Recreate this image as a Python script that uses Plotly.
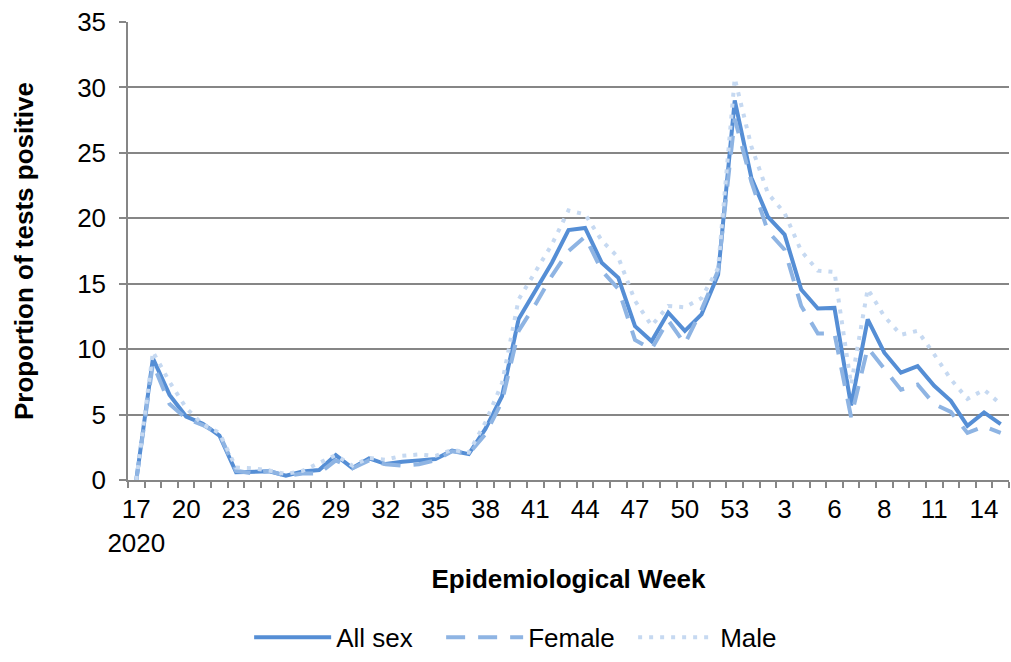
import plotly.graph_objects as go

weeks = [str(w) for w in range(17, 54)] + [str(w) for w in range(1, 8)] + ["7"] + [str(w) for w in range(8, 16)]

all_sex = [0, 9.3, 6.5, 4.85, 4.3, 3.4, 0.6, 0.6, 0.66, 0.33, 0.65, 0.76, 1.9, 0.91, 1.65, 1.22, 1.4, 1.5, 1.6, 2.24,
           1.98, 3.9, 6.4, 12.3, 14.4, 16.6, 19.1, 19.26, 16.6, 15.45, 11.76, 10.6, 12.8, 11.4, 12.65, 15.7, 29.0,
           23.1, 20.1, 18.75, 14.56, 13.1, 13.15, 5.7, 12.27, 9.73, 8.2, 8.7, 7.2, 6.05, 4.14, 5.16, 4.27]
female = [0, 8.9, 5.8, 4.7, 4.2, 3.5, 0.7, 0.5, 0.7, 0.3, 0.5, 0.5, 1.5, 0.9, 1.5, 1.2, 1.1, 1.2, 1.5, 2.2,
          2.0, 3.5, 6.0, 11.4, 13.4, 15.6, 17.5, 18.6, 16.0, 14.6, 10.7, 10.0, 12.2, 10.4, 13.0, 16.0, 27.6,
          22.8, 19.0, 17.6, 13.3, 11.2, 11.2, 4.8, 10.1, 8.5, 6.9, 7.3, 5.8, 5.2, 3.6, 4.1, 3.6]
male = [0, 9.8, 7.5, 5.5, 4.25, 3.6, 0.95, 0.9, 0.72, 0.46, 0.7, 1.3, 1.9, 1.1, 1.68, 1.55, 1.85, 1.95, 1.85, 2.3,
        2.1, 4.4, 7.4, 13.8, 15.95, 18.0, 20.6, 20.3, 18.3, 17.0, 13.7, 11.8, 13.3, 13.2, 13.9, 16.2, 30.7,
        25.5, 21.9, 20.4, 17.5, 16.0, 15.9, 7.3, 14.6, 12.5, 11.1, 11.4, 9.6, 7.7, 6.2, 6.9, 5.8]

x = list(range(len(weeks)))
tick_idx = list(range(0, len(weeks), 3))
tick_text = [weeks[i] + ("<br>2020" if i == 0 else "") for i in tick_idx]

GRAY = "rgb(134,134,134)"
FS = 26

fig = go.Figure()
fig.add_trace(go.Scatter(x=x, y=all_sex, mode="lines", name="All sex",
                         line=dict(color="rgb(85,142,213)", width=4)))
fig.add_trace(go.Scatter(x=x, y=female, mode="lines", name="Female",
                         line=dict(color="rgb(142,180,227)", width=4, dash="19px,13px")))
fig.add_trace(go.Scatter(x=x, y=male, mode="lines", name="Male",
                         line=dict(color="rgb(198,217,241)", width=4, dash="4px,7px")))

fig.update_layout(
    width=1011, height=662,
    margin=dict(l=128, r=2, t=22, b=181),
    paper_bgcolor="white", plot_bgcolor="white",
    font=dict(family="Liberation Sans, Arial, sans-serif", size=FS, color="black"),
    showlegend=True,
    legend=dict(orientation="h", x=0.1375, xanchor="left", y=-0.392, yanchor="bottom",
                font=dict(size=FS), itemwidth=77, entrywidth=100, entrywidthmode="pixels"),
    xaxis=dict(
        range=[-0.5, len(weeks) - 0.5], automargin=False,
        tickmode="array", tickvals=tick_idx, ticktext=tick_text,
        ticks="", showgrid=False, zeroline=False,
        showline=True, linecolor=GRAY, linewidth=1.5,
        minor=dict(tickmode="linear", tick0=-0.5, dtick=1, ticks="outside", ticklen=6,
                   tickcolor=GRAY, tickwidth=1.5, showgrid=False),
        tickfont=dict(size=FS), ticklabelstandoff=5,
        title=dict(text="<b>Epidemiological Week</b>", font=dict(size=FS), standoff=13),
    ),
    yaxis=dict(
        range=[0, 35], automargin=False, tickmode="array", tickvals=list(range(0, 36, 5)),
        ticks="outside", ticklen=7, tickcolor=GRAY, tickwidth=1.5,
        showgrid=True, gridcolor=GRAY, gridwidth=1.5,
        zeroline=False, showline=True, linecolor=GRAY, linewidth=1.5,
        tickfont=dict(size=FS), ticklabelstandoff=8,
        title=dict(text="<b>Proportion of tests positive</b>", font=dict(size=FS), standoff=36),
    ),
)

fig.write_html("out.html", config={"displayModeBar": False},
               post_script="document.body.style.margin='0px';")
